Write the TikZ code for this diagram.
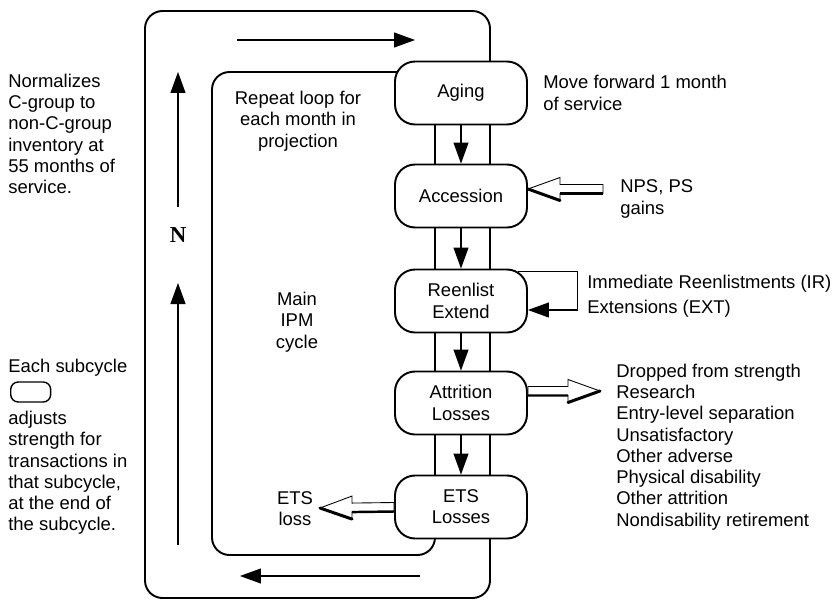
\documentclass[tikz,border=0pt]{standalone}
\usepackage{fontspec}
\setmainfont{Liberation Sans}
\newfontfamily\nfont{Liberation Serif}
\usetikzlibrary{arrows.meta,calc,positioning}

% hollow block arrow from tail (#1) to tip (#2), horizontal
\newcommand{\blockarrow}[2]{%
    \coordinate (ba-h) at ($(#2)!0.64cm!(#1)$);
    \draw[blockline] ($(#1)+(0,-4.5)$) -- ($(ba-h)+(0,-4.5)$) -- ($(ba-h)+(0,-11.5)$) -- (#2)
        -- ($(ba-h)+(0,11.5)$) -- ($(ba-h)+(0,4.5)$) -- ($(#1)+(0,4.5)$) -- cycle;
    \draw[line width=1.7pt, line cap=round] (#2) -- ($(ba-h)+(0,11.5)$);
    \draw[line width=1.4pt] ($(ba-h)+(0,4.5)$) -- ($(#1)+(0,4.5)$);
}

\begin{document}
\begin{tikzpicture}[
    x=0.02cm, y=-0.02cm,
    font=\fontsize{10.5}{12.1}\selectfont,
    % subcycle boxes
    cyclebox/.style={
        draw=black,
        line width=1.1pt,
        fill=white,
        rounded corners=0.4cm,
        align=center,
        inner sep=2pt,
        minimum width=2.64cm,
        minimum height=1.26cm
    },
    % the two loop frames
    loopframe/.style={
        draw=black,
        line width=1.1pt,
        rounded corners=0.35cm
    },
    % thin arrows
    flow/.style={
        line width=0.6pt,
        -{Triangle[length=0.42cm, width=0.3cm]}
    },
    % hollow arrows
    blockline/.style={
        draw=black,
        line width=0.5pt,
        fill=white
    },
    % text beside things
    note/.style={
        align=left,
        anchor=west,
        inner sep=0pt
    },
    midtext/.style={
        align=center,
        inner sep=0pt
    }
]
    \useasboundingbox (0,0) rectangle (832,602);

    % --- frames ---
    \draw[loopframe] (145,11) rectangle (490,598);
    \draw[loopframe] (212,72) rectangle (435,555);

    % --- subcycles ---
    \node[cyclebox] (aging) at (461,93) {Aging};
    \node[cyclebox] (accession) at (461,196) {Accession};
    \node[cyclebox] (reenlist) at (461,301) {Reenlist\\Extend};
    \node[cyclebox] (attrition) at (461,403) {Attrition\\Losses};
    \node[cyclebox] (ets) at (461,507) {ETS\\Losses};

    \foreach \a/\b in {aging/accession, accession/reenlist, reenlist/attrition, attrition/ets}
        \draw[flow] (\a) -- (\b);

    % reenlist loop back
    \draw[flow] ($(reenlist.north east)+(-10,3)$) -- ++(60,0) |- ($(reenlist.east)+(0,9)$);

    % --- gains and losses ---
    \coordinate (npsend) at (603,189);
    \coordinate (npstip) at (528,189);
    \blockarrow{npsend}{npstip}

    \coordinate (attrstart) at ([yshift=0.24cm]attrition.east);
    \coordinate (attrtip) at (600,391);
    \blockarrow{attrstart}{attrtip}

    \coordinate (etstip) at (320,508);
    \blockarrow{ets.west}{etstip}

    % --- loop arrows ---
    \coordinate (topA) at (237,40);
    \coordinate (topB) at (415,40);
    \draw[flow] (topA) -- (topB);

    \coordinate (botA) at (420,576);
    \coordinate (botB) at (240,576);
    \draw[flow] (botA) -- (botB);

    \node[font=\nfont\bfseries\fontsize{13}{15}\selectfont] (n) at (178,235) {N};
    \coordinate (upA) at (178,207);
    \coordinate (upB) at (178,72);
    \draw[flow] (upA) -- (upB);
    \coordinate (lowA) at (178,545);
    \coordinate (lowB) at (178,283);
    \draw[flow] (lowA) -- (lowB);

    % --- texts ---
    \node[midtext] (repeat) at (298,121) {Repeat loop for\\each month in\\projection};
    \node[midtext] (maincycle) at (297,322) {Main\\IPM\\cycle};
    \node[midtext] (etsloss) at (295,509) {ETS\\loss};

    \node[note] (move) at (543,93) {Move forward 1 month\\of service};
    \node[note] (nps) at (620,199) {NPS, PS\\gains};
    \node[note] (reup) at (587,296) {Immediate Reenlistments (IR)\\[2pt]Extensions (EXT)};
    \node[note] (drops) at (616,447) {Dropped from strength\\Research\\Entry-level separation\\Unsatisfactory\\Other adverse\\Physical disability\\Other attrition\\Nondisability retirement};

    \node[note] (normal) at (8,134) {Normalizes\\C-group to\\non-C-group\\inventory at\\55 months of\\service.};
    \node[note] (each) at (8,368) {Each subcycle};
    \node[draw, line width=0.8pt, rounded corners=0.15cm, minimum width=0.8cm, minimum height=0.4cm, anchor=west] (icon) at (10,392) {};
    \node[note] (adjusts) at (8,473) {adjusts\\strength for\\transactions in\\that subcycle,\\at the end of\\the subcycle.};

\end{tikzpicture}
\end{document}
